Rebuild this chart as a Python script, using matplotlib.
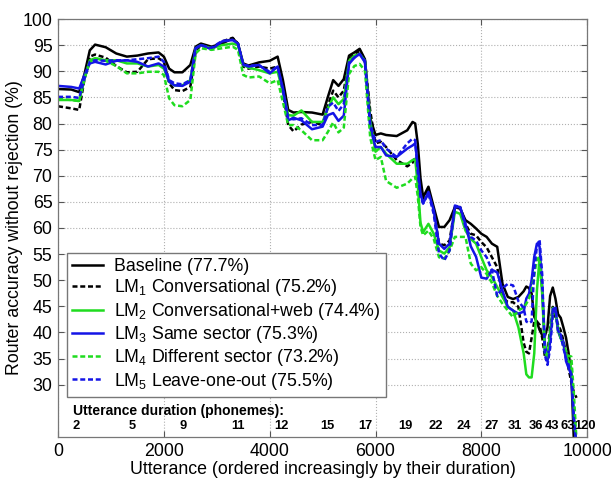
import numpy as np
import matplotlib
matplotlib.use('Agg')
import matplotlib.pyplot as plt

plt.rcParams['font.family'] = ['Liberation Sans', 'DejaVu Sans']
plt.rcParams['mathtext.fontset'] = 'custom'
plt.rcParams['mathtext.rm'] = 'Liberation Sans'
plt.rcParams['mathtext.it'] = 'Liberation Sans:italic'
plt.rcParams['mathtext.bf'] = 'Liberation Sans:bold'

# utterance index (sorted by duration)
utt = [0, 250, 400, 500, 600, 700, 900, 1100, 1300, 1500,
       1700, 1900, 2000, 2100, 2200, 2350, 2500, 2600, 2700, 2900,
       3100, 3300, 3400, 3500, 3600, 3800, 4000, 4150, 4250, 4350,
       4450, 4600, 4800, 5000, 5100, 5200, 5300, 5400, 5500, 5600,
       5700, 5800, 5900, 6000, 6100, 6200, 6400, 6600, 6700, 6750,
       6800, 6850, 6900, 7000, 7100, 7200, 7300, 7400, 7500, 7600,
       7700, 7800, 7900, 8000, 8100, 8200, 8300, 8400, 8500, 8600,
       8700, 8800, 8850, 8900, 8950, 9000, 9050, 9100, 9150, 9200,
       9250, 9300, 9350, 9400, 9450, 9500, 9550, 9600, 9650, 9700,
       9750, 9800]

baseline = [86.6, 86.5, 86.0, 89.5, 94.0, 95.1, 94.6, 93.4, 92.8, 93.0,
            93.4, 93.6, 92.8, 90.5, 89.8, 89.8, 91.2, 94.7, 95.3, 94.7,
            95.3, 96.3, 95.3, 91.5, 91.1, 91.7, 92.0, 92.8, 88.3, 82.6,
            82.1, 82.2, 82.1, 81.7, 85.1, 88.3, 87.2, 88.5, 93.0, 93.6,
            94.3, 92.3, 81.0, 77.8, 78.1, 77.8, 77.6, 78.7, 80.3, 80.0,
            76.0, 69.5, 65.9, 67.9, 64.0, 60.2, 60.2, 61.5, 64.0, 63.7,
            61.5, 60.8, 59.9, 58.9, 58.3, 57.0, 56.4, 49.3, 46.8, 46.4,
            46.8, 47.9, 48.8, 48.5, 47.5, 43.0, 42.0, 40.5, 39.5, 39.3,
            41.0, 47.0, 48.6, 46.5, 43.5, 42.8, 41.0, 39.0, 36.0, 32.0,
            19.0, np.nan]

lm1 = [83.3, 82.9, 82.6, 88.5, 92.8, 93.2, 92.6, 91.0, 89.8, 89.9,
       92.3, 92.5, 91.8, 87.7, 86.4, 86.2, 87.0, 93.7, 95.1, 94.4,
       95.7, 96.4, 95.3, 90.9, 90.5, 90.9, 90.5, 90.9, 86.1, 79.7,
       78.5, 79.8, 80.3, 79.7, 83.5, 86.3, 85.0, 86.3, 92.3, 93.3,
       93.9, 92.0, 82.4, 76.2, 76.5, 75.5, 73.0, 71.8, 72.5, 73.6,
       71.0, 67.0, 65.6, 67.2, 63.4, 57.0, 56.7, 57.6, 64.0, 64.0,
       60.8, 58.9, 58.6, 57.3, 56.3, 54.4, 52.5, 46.8, 45.8, 45.8,
       44.9, 38.0, 36.3, 36.0, 39.0, 42.1, 42.1, 41.5, 39.0, 35.5,
       36.0, 41.0, 44.9, 43.0, 41.5, 40.4, 38.5, 36.0, 33.0, 30.5,
       28.5, 27.5]

lm2 = [84.5, 84.5, 84.3, 88.6, 92.1, 92.5, 92.1, 92.1, 91.5, 91.5,
       90.9, 91.2, 90.5, 88.0, 87.3, 87.3, 88.3, 94.4, 95.0, 94.4,
       95.0, 95.3, 95.0, 91.2, 90.7, 90.2, 89.6, 89.9, 86.1, 81.6,
       81.5, 82.5, 80.3, 80.3, 82.9, 85.0, 83.7, 84.7, 92.0, 93.0,
       93.3, 92.0, 80.5, 74.6, 75.5, 74.2, 72.3, 72.3, 73.0, 73.2,
       68.0, 61.0, 59.2, 60.8, 58.9, 55.7, 55.1, 56.3, 63.1, 62.7,
       59.5, 57.9, 57.0, 54.4, 51.9, 50.6, 48.7, 46.8, 44.9, 44.2,
       41.0, 36.0, 32.0, 31.4, 31.4, 36.0, 48.0, 54.3, 47.3, 36.4,
       35.1, 40.2, 44.7, 44.1, 40.2, 38.9, 37.7, 35.7, 34.5, 33.2,
       23.6, 18.0]

lm3 = [87.2, 87.0, 86.7, 89.3, 91.5, 91.8, 91.3, 92.0, 92.1, 91.8,
       90.9, 91.5, 90.9, 88.0, 87.3, 87.2, 88.0, 94.4, 95.0, 94.2,
       95.7, 96.0, 95.3, 91.3, 90.9, 91.2, 89.6, 90.9, 86.7, 80.6,
       81.1, 80.6, 78.9, 79.4, 81.6, 82.0, 80.5, 81.5, 91.4, 92.6,
       93.3, 91.7, 79.2, 75.5, 75.5, 73.9, 73.6, 75.2, 75.8, 76.2,
       71.7, 66.6, 64.7, 66.9, 63.4, 57.0, 56.0, 57.0, 64.0, 64.0,
       60.8, 56.5, 54.5, 50.5, 50.3, 52.0, 51.5, 48.0, 44.9, 44.2,
       43.6, 44.0, 46.5, 47.4, 50.0, 54.5, 57.0, 56.5, 49.0, 38.0,
       34.5, 38.3, 44.5, 44.7, 40.5, 38.9, 38.3, 34.5, 33.2, 31.9,
       23.6, 18.0]

lm4 = [84.7, 84.5, 84.3, 88.6, 91.8, 92.5, 92.0, 91.0, 89.6, 89.6,
       89.9, 89.9, 89.3, 84.8, 83.5, 83.3, 84.5, 93.4, 94.4, 94.1,
       94.4, 94.7, 94.1, 89.3, 88.8, 89.0, 87.7, 88.3, 84.1, 79.7,
       79.7, 78.7, 76.8, 76.8, 78.4, 80.2, 78.3, 79.2, 89.5, 91.0,
       91.4, 90.1, 77.3, 73.0, 73.6, 69.0, 67.7, 68.5, 69.5, 69.8,
       65.9, 60.2, 58.6, 59.5, 57.9, 54.4, 54.1, 55.7, 58.3, 58.3,
       58.3, 53.2, 51.9, 52.5, 51.2, 49.5, 47.0, 45.5, 44.2, 42.9,
       44.2, 44.8, 45.5, 46.5, 48.0, 51.0, 54.0, 54.5, 48.0, 37.0,
       35.0, 39.0, 43.5, 44.0, 41.0, 39.0, 37.5, 36.5, 35.5, 35.4,
       28.0, 19.0]

lm5 = [85.1, 85.1, 84.9, 88.6, 91.8, 92.1, 92.0, 92.1, 92.1, 92.3,
       92.5, 92.8, 91.8, 88.3, 87.7, 87.5, 88.3, 94.4, 95.0, 94.5,
       95.8, 96.0, 95.3, 91.2, 91.1, 91.1, 89.9, 90.9, 86.4, 81.0,
       80.8, 81.0, 79.7, 79.7, 83.2, 84.0, 82.4, 83.7, 91.7, 92.6,
       93.3, 92.0, 79.9, 76.5, 76.8, 75.2, 73.6, 76.2, 77.1, 76.8,
       70.4, 65.9, 64.7, 66.6, 62.7, 55.1, 53.8, 55.7, 64.3, 64.0,
       60.2, 58.3, 57.6, 55.7, 54.4, 51.9, 47.0, 48.5, 49.3, 49.0,
       46.0, 44.7, 42.1, 41.8, 42.1, 52.0, 56.5, 57.8, 51.1, 35.7,
       33.8, 37.0, 43.4, 44.7, 40.2, 39.6, 37.0, 35.1, 33.8, 31.9,
       23.0, 18.0]

labels = ['Baseline (77.7%)',
          r'LM$_1$ Conversational (75.2%)',
          r'LM$_2$ Conversational+web (74.4%)',
          r'LM$_3$ Same sector (75.3%)',
          r'LM$_4$ Different sector (73.2%)',
          r'LM$_5$ Leave-one-out (75.5%)']

# phoneme duration markers along the bottom
dur_labels = ['2', '5', '9', '11', '12', '15', '17', '19', '22', '24',
              '27', '31', '36', '43', '63', '120']
dur_pos = [336, 1400, 2360, 3400, 4230, 5090, 5800, 6560, 7130, 7660,
           8190, 8640, 9030, 9340, 9640, 9965]

BLACK = '#000000'
GREEN = '#1fdc1f'
BLUE = '#1414e6'

fig = plt.figure(figsize=(6.11, 4.80), dpi=100)
ax = fig.add_axes([0.095, 0.0896, 0.866, 0.8708])

series = [baseline, lm1, lm2, lm3, lm4, lm5]
colors = [BLACK, BLACK, GREEN, BLUE, GREEN, BLUE]
dashed = [False, True, False, False, True, True]

for vals, c, d, lab in zip(series, colors, dashed, labels):
    if d:
        ax.plot(utt, vals, color=c, lw=1.8, dashes=(2.0, 1.1), label=lab)
    else:
        ax.plot(utt, vals, color=c, lw=1.8, label=lab)

ax.set_xlim(0, 10000)
ax.set_ylim(20, 100)
ax.set_xticks(np.arange(0, 10001, 2000))
ax.set_yticks(np.arange(30, 101, 5))
ax.grid(True, color='#b0b0b0', linestyle=':', linewidth=0.8)
ax.tick_params(direction='in', top=True, right=True, labelsize=12.8,
               length=4, width=0.8, color='#555555', pad=4)
for s in ax.spines.values():
    s.set_color('#777777')
    s.set_linewidth(0.9)

ax.set_xlabel('Utterance (ordered increasingly by their duration)',
              fontsize=12.8, labelpad=1)
ax.set_ylabel('Router accuracy without rejection (%)', fontsize=12.8,
              labelpad=0)

ax.text(0.028, 25.0, 'Utterance duration (phonemes):', transform=ax.get_yaxis_transform(),
        fontsize=10, fontweight='bold', va='center', ha='left')
for lab, xp in zip(dur_labels, dur_pos):
    ax.text(xp, 22.1, lab, fontsize=9.3, fontweight='bold', ha='center', va='center')

leg = ax.legend(loc='lower left', bbox_to_anchor=(0.017, 0.0957), borderaxespad=0,
                fontsize=12.8, handlelength=1.75, handletextpad=0.6,
                labelspacing=0.13, borderpad=0.3, fancybox=False, framealpha=1)
leg.get_frame().set_edgecolor('#777777')
leg.get_frame().set_linewidth(1.0)

fig.savefig('out.png', dpi=100)
